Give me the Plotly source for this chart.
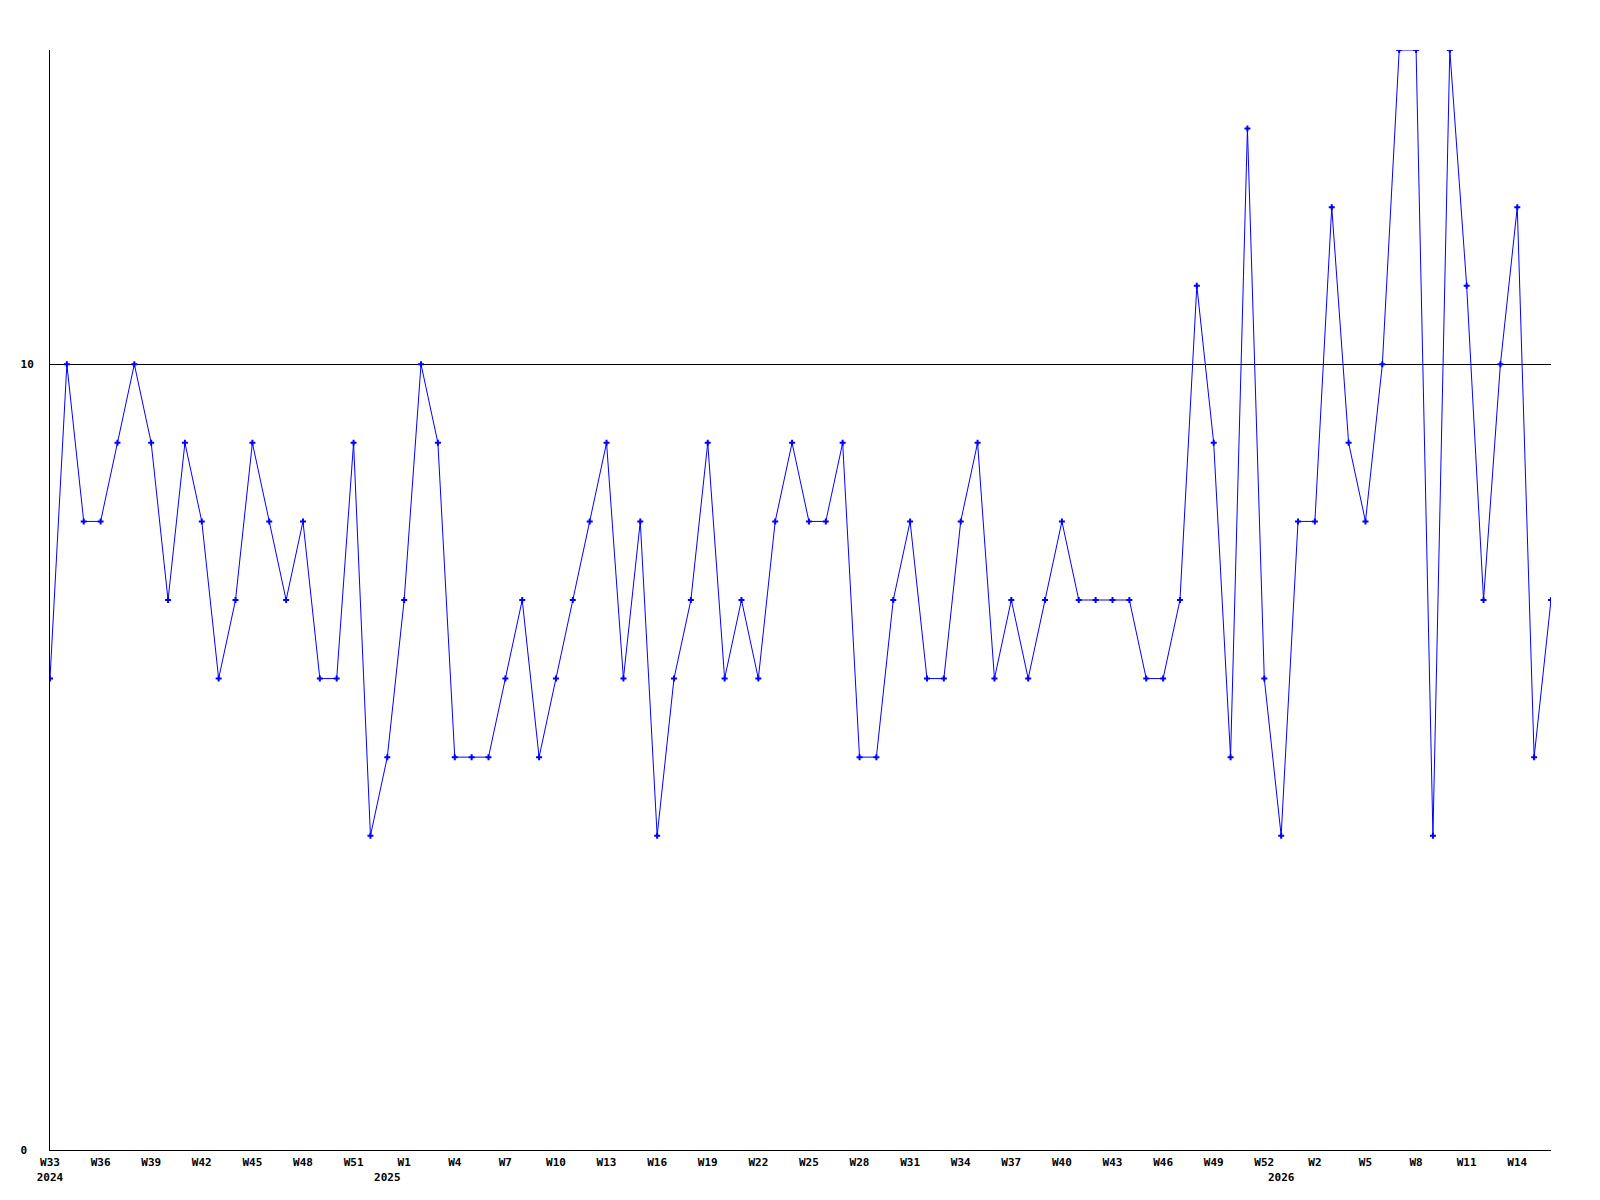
import plotly.graph_objects as go

# weekly counts, W33 2024 .. W16 2026 (week 0 = partial first week of a year)
week_years = [2024] * 20 + [2025] * 53 + [2026] * 17
week_numbers = list(range(33, 53)) + list(range(0, 53)) + list(range(0, 17))
counts = [
    6, 10, 8, 8, 9, 10, 9, 7, 9, 8,
    6, 7, 9, 8, 7, 8, 6, 6, 9, 4,
    5, 7, 10, 9, 5, 5, 5, 6, 7, 5,
    6, 7, 8, 9, 6, 8, 4, 6, 7, 9,
    6, 7, 6, 8, 9, 8, 8, 9, 5, 5,
    7, 8, 6, 6, 8, 9, 6, 7, 6, 7,
    8, 7, 7, 7, 7, 6, 6, 7, 11, 9,
    5, 13, 6, 4, 8, 8, 12, 9, 8, 10,
    14, 14, 4, 14, 11, 7, 10, 12, 5, 7,
]
y_ticks = [0, 10]
y_tick_text = ["0\u00a0", "10"]

FONT = {"family": "DejaVu Sans Mono, monospace", "size": 11, "color": "#000000", "weight": "bold"}

x = list(range(len(counts)))

# week label every third point, year label on the first week of each year
tick_vals, tick_text = [], []
for i, (yr, wk) in enumerate(zip(week_years, week_numbers)):
    new_year = i == 0 or week_years[i - 1] != yr
    week_lbl = f"W{wk}" if i % 3 == 0 else "\u00a0"
    if i % 3 == 0 or new_year:
        tick_vals.append(i)
        tick_text.append(week_lbl + (f"<br>{yr}" if new_year else ""))

fig = go.Figure()
fig.add_trace(
    go.Scatter(
        x=x,
        y=counts,
        mode="lines+markers",
        line={"color": "#0000ff", "width": 1},
        marker={"symbol": "cross", "size": 5, "color": "#0000ff", "line": {"width": 0}},
        showlegend=False,
    )
)

# page body adds 8px, so margins are trimmed by that much on the left/top
fig.update_layout(
    width=1600,
    height=1200,
    paper_bgcolor="#ffffff",
    plot_bgcolor="#ffffff",
    margin={"l": 42, "r": 57, "t": 42, "b": 58},
    font=FONT,
    xaxis={
        "range": [0, len(counts) - 1],
        "tickmode": "array",
        "tickvals": tick_vals,
        "ticktext": tick_text,
        "tickangle": 0,
        "tickfont": FONT,
        "showgrid": False,
        "zeroline": False,
        "showline": True,
        "linecolor": "#000000",
        "linewidth": 1,
        "ticks": "",
        "ticklabelstandoff": 2,
    },
    yaxis={
        "range": [0, 14],
        "tickmode": "array",
        "tickvals": y_ticks,
        "ticktext": y_tick_text,
        "tickfont": FONT,
        "showgrid": True,
        "gridcolor": "#000000",
        "gridwidth": 1,
        "zeroline": False,
        "showline": True,
        "linecolor": "#000000",
        "linewidth": 1,
        "ticks": "",
        "ticklabelstandoff": 13,
    },
)

fig.write_html("out.html")
